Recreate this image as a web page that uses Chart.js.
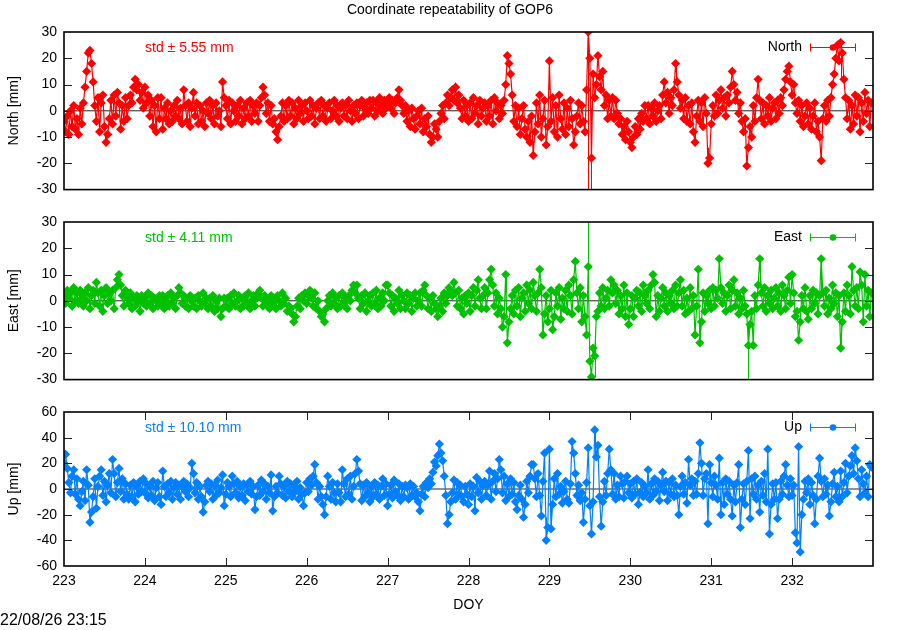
<!DOCTYPE html>
<html><head><meta charset="utf-8">
<script src="https://cdn.jsdelivr.net/npm/chart.js@4.4.1/dist/chart.umd.min.js"></script>
<style>
html,body{margin:0;padding:0;background:#fff;}
#wrap{position:relative;width:900px;height:630px;overflow:hidden;background:#fff;}
canvas{position:absolute;left:0;}
</style></head><body>
<div id="wrap">
<canvas id="c1" width="900" height="205" style="top:0px;width:900px;height:205px"></canvas>
<canvas id="c2" width="900" height="190" style="top:205px;width:900px;height:190px"></canvas>
<canvas id="c3" width="900" height="235" style="top:395px;width:900px;height:235px"></canvas>
</div>
<script>
// ---- sampling grid (day of year) ----
const doyStart = 223.0;
const doyStep = 0.02;

// ---- tick labels ----
const xTicks = [223, 224, 225, 226, 227, 228, 229, 230, 231, 232];
const neTicks = [-30, -20, -10, 0, 10, 20, 30];
const upTicks = [-60, -40, -20, 0, 20, 40, 60];

// ---- series values [mm], one row = 0.2 day ----
const north = [
  -4,-8,-2,-9,0,-6,2,-7,-3,-9,
  1,-5,3,9,15,22,23,18,11,2,
  -4,5,-8,3,6,-6,-12,-9,-3,4,
  -5,6,-2,7,3,-7,2,-4,5,-3,
  2,6,3,9,12,8,10,4,7,1,
  9,3,6,-2,4,-6,2,-8,5,-3,
  5,-7,1,-3,3,-5,0,-4,2,-2,
  4,-3,1,-5,8,2,-4,3,-6,1,
  7,-2,3,-5,2,-4,0,-6,3,-1,
  4,-3,2,-5,3,-2,0,-6,11,5,
  2,-3,4,-5,3,0,-4,2,-2,4,
  -5,1,-3,3,-2,4,-4,2,-1,3,
  -4,2,5,9,6,-1,3,-4,2,-5,
  -3,-8,-11,-6,-2,3,-4,2,-3,4,
  -2,3,-5,1,-3,4,-1,2,-4,3,
  0,-3,4,-2,2,-5,1,3,-3,4,
  -2,2,-4,1,3,-3,0,4,-2,2,
  -4,1,3,-2,2,-3,4,0,-4,2,
  -1,3,-3,2,4,-2,1,3,-1,4,
  1,4,-2,3,0,5,2,-1,4,1,
  3,5,1,4,-1,3,5,8,4,2,
  -1,2,-4,0,-6,1,-3,-7,-2,0,
  -5,1,-8,-3,-6,-2,-9,-12,-10,-5,
  -7,-10,-4,-1,2,-3,3,6,2,5,
  8,4,9,3,6,1,-3,4,-2,2,
  -4,3,-3,5,-1,2,-5,4,-2,1,
  3,-4,2,-2,4,-5,5,0,3,-3,
  2,-1,4,10,21,18,14,6,-4,2,
  -6,1,-9,-3,2,-7,-10,-4,-12,-2,
  -17,-8,3,-5,6,-10,-3,4,-13,-6,
  19,-4,5,-8,2,-10,6,-3,-7,3,
  -9,1,-6,4,-3,-13,-8,-2,3,-5,
  2,-4,-8,8,30,20,-18,14,5,10,
  21,13,8,15,2,6,-3,4,-2,5,
  -3,4,-1,-5,-3,-9,-6,-11,-4,-8,
  -12,-14,-10,-6,-9,-3,-7,-1,-4,2,
  -3,2,-5,1,-2,3,-4,0,2,-3,
  6,11,3,7,-1,5,2,8,18,11,
  6,1,4,-3,5,-4,2,-5,3,-8,
  -12,-2,4,-4,3,-6,5,-1,-20,-18,
  -5,2,-2,6,-1,4,8,1,5,-2,
  6,3,9,15,10,4,7,-1,3,-4,
  -8,-3,-21,-14,-6,-10,2,-4,5,12,
  4,-3,3,-5,2,-2,5,-4,1,3,
  -3,4,-1,5,2,8,12,15,17,11,
  6,10,3,-1,4,-4,2,-6,-2,3,
  -5,1,-7,-2,3,-8,-4,-10,-19,-3,
  2,-4,4,-2,5,10,14,20,25,19,
  26,22,12,5,-3,4,-7,2,-5,6,
  -2,5,-8,3,-4,7,-1,4,-6,3
];
const east = [
  2,-1,4,1,3,-2,5,0,3,-1,
  4,1,-2,3,0,5,-3,2,4,-1,
  7,3,-2,4,-4,2,5,-1,3,0,
  4,-3,5,8,10,6,2,-2,4,1,
  -1,3,-3,1,-2,2,0,-4,2,-1,
  1,-2,3,-1,2,-3,1,0,-2,2,
  -1,2,-3,0,2,-2,3,-1,1,-3,
  2,5,3,-1,2,-2,1,-3,2,0,
  -2,1,-3,2,0,-2,3,-1,1,-3,
  1,-2,2,-4,0,-3,1,-6,-3,1,
  -2,1,-3,2,-1,3,-2,0,2,-3,
  1,-2,2,-1,3,-3,0,2,-2,1,
  3,4,1,-2,2,-1,0,-3,2,-1,
  1,-3,2,0,-2,3,-1,1,-4,-2,
  -3,-5,-8,-6,-2,1,-3,2,0,3,
  -1,2,4,1,-2,3,-3,0,-4,-6,
  -5,-8,-3,0,2,-2,3,-1,1,-3,
  2,-2,3,-1,1,-3,2,0,4,6,
  3,6,1,-3,2,-1,3,-4,0,2,
  -2,3,-1,4,-3,1,-2,3,0,6,
  6,3,-2,2,-4,1,-1,4,-3,2,
  0,-3,3,-1,2,-4,1,3,-2,0,
  3,-2,4,6,2,-3,1,-4,2,-1,
  -3,-6,-2,1,-4,3,-1,2,5,4,
  2,7,3,-2,4,-3,1,-5,2,-1,
  3,-4,2,5,-2,4,8,1,-3,2,
  5,-3,3,8,12,6,-2,3,-5,1,
  -3,-10,-6,10,-16,-8,-3,2,-5,4,
  -2,5,-6,1,3,-4,6,-1,4,-3,
  7,2,-4,3,12,5,-13,-5,2,-8,
  -3,4,-11,-6,3,-2,5,-7,1,-3,
  4,-4,6,2,-5,8,15,3,-3,5,
  -8,2,-6,-13,13,-23,-29,-18,-21,-6,
  -4,3,-2,5,-3,1,4,-2,8,3,
  6,-1,4,-5,2,-3,6,-6,3,-9,
  -3,2,-6,1,4,-2,3,-4,6,2,
  -1,4,-3,6,10,7,-6,2,-4,1,
  5,-2,3,-4,2,-1,4,-3,6,-2,
  3,8,-2,4,-5,1,-4,5,-3,2,
  -13,-2,12,-16,-8,3,-4,2,-1,4,
  -3,5,-2,4,1,16,5,-1,3,-4,
  2,6,-3,4,8,-2,3,-5,1,-3,
  4,-2,-5,-17,-9,-4,-17,2,-3,6,
  16,3,-2,5,-4,2,-1,4,-3,1,
  5,-2,3,-4,6,2,-3,4,9,-1,
  10,3,-6,-4,-15,-8,2,-3,5,-4,
  -7,2,-3,4,-1,3,-5,2,16,3,
  -2,4,-5,1,-3,6,-1,3,-6,2,
  -18,-8,3,-4,6,2,-5,13,4,-2,
  5,-3,11,6,-8,10,-2,4,-6,3
];
const up = [
  20,27,16,5,-3,10,15,-4,8,-8,
  -13,-2,6,-9,15,3,-26,-18,-6,8,
  -15,2,10,15,-5,6,-10,3,12,-3,
  23,12,-6,5,16,-2,8,-8,4,-4,
  -8,3,-6,5,-10,2,-4,6,-2,8,
  -3,4,-7,2,-5,6,-9,1,5,-6,
  -12,14,2,-6,4,-3,6,-8,1,5,
  -4,3,-8,2,6,-2,4,-6,1,20,
  12,-3,5,-8,2,-6,-18,-10,3,6,
  -2,4,-8,3,-5,7,-3,1,11,-13,
  -4,5,2,-6,10,4,-3,6,-7,2,
  -5,4,-9,3,-2,6,-4,2,-16,-6,
  3,-5,7,-2,4,-8,2,-3,11,-17,
  -6,2,-3,10,4,-5,2,-7,6,-2,
  4,-6,3,-2,6,-8,1,-4,-13,-3,
  5,-2,8,3,10,19,5,-8,2,-6,
  -12,-20,-6,10,2,-8,5,-3,-10,4,
  -3,-10,15,4,-6,8,-4,10,-8,2,
  12,23,14,4,-9,3,-6,5,-3,-10,
  2,-6,5,-4,3,-8,2,8,-5,4,
  -13,-4,3,-7,7,-2,-5,4,-9,2,
  -6,3,1,-8,4,-5,2,-6,-3,-10,
  -17,-4,2,-6,5,1,8,4,13,21,
  18,26,35,28,22,10,-5,-27,-20,-10,
  -3,7,-8,5,-4,3,-6,-10,2,-4,
  -12,4,-6,2,-17,9,-3,6,-8,3,
  6,-5,3,14,-8,6,12,-2,8,23,
  15,-3,10,-9,4,-6,8,-4,5,-10,
  -16,-5,3,-8,-22,-12,6,-3,10,19,
  19,8,-6,12,-5,-21,6,28,-40,-30,
  31,-31,-12,8,-6,12,-4,2,-11,-2,
  6,-8,-11,4,37,28,12,-5,3,-9,
  -3,-26,-8,5,32,-13,-35,-10,46,25,
  34,-6,-29,-10,6,-5,12,31,15,-4,
  12,-8,3,-6,10,4,-7,6,10,-3,
  4,-7,6,-4,8,-12,-3,5,-6,2,
  -3,15,-8,4,-5,8,-2,6,-9,3,
  13,-2,6,-9,5,-4,8,-6,3,-5,
  -20,2,10,-4,5,-11,23,3,8,-5,
  6,-4,12,36,20,-5,8,12,-27,19,
  5,-6,10,3,-8,24,-20,5,-12,8,
  -4,6,-8,-21,3,-10,5,19,-30,-8,
  4,-12,6,30,-23,8,-4,10,-8,3,
  -18,6,-5,12,-10,31,-35,-12,4,-8,
  5,-23,-8,6,-4,10,19,3,-6,8,
  -5,3,-34,-42,33,-49,-20,-8,6,-3,
  8,-12,5,-5,-27,-8,10,24,6,-6,
  8,-4,3,-21,-10,4,13,-6,2,-10,
  14,-6,5,20,-3,10,18,26,12,32,
  22,8,-6,15,4,-3,10,-6,19,17
];

// ---- visible long error bars: [doy, low, high] ----
const northErr = [[229.00, 8, 19], [229.48, -30, 30], [229.52, -30, 1], [230.56, 11, 18], [230.96, -20, -14], [232.60, 12, 26]];
const eastErr = [[228.46, 3, 10], [229.48, 0, 30], [229.56, -29, -12], [230.86, -16, -8], [231.46, -30, -9], [231.60, 5, 16], [232.36, 2, 16], [232.60, -18, -9]];
const upErr = [[228.96, -40, -22], [229.02, -31, -10], [229.56, 25, 46], [230.98, 5, 19]];

// ---- reference line ----
const refDoy = [223, 233];
const refVal = [0, 0];

// ---- std labels ----
const stdNorth = 'std \u00b1 5.55 mm';
const stdEast = 'std \u00b1 4.11 mm';
const stdUp = 'std \u00b1 10.10 mm';

const FONT_FAMILY = '"Liberation Sans", Arial, Helvetica, sans-serif';
const FONT = '14px ' + FONT_FAMILY;

function toPoints(vals) { return vals.map((v, i) => ({x: doyStart + i * doyStep, y: v})); }

const panelPlugin = {
  id: 'panel',
  beforeDatasetsDraw(chart, args, opts) {
    const {ctx, chartArea: a, scales} = chart;
    ctx.save();
    ctx.beginPath(); ctx.rect(a.left, a.top, a.right - a.left, a.bottom - a.top); ctx.clip();
    ctx.strokeStyle = opts.color; ctx.lineWidth = 1;
    opts.errBars.forEach(([x, lo, hi]) => {
      const px = Math.round(scales.x.getPixelForValue(x)) + 0.5;
      ctx.beginPath();
      ctx.moveTo(px, scales.y.getPixelForValue(lo));
      ctx.lineTo(px, scales.y.getPixelForValue(hi));
      ctx.stroke();
    });
    ctx.restore();
  },
  afterDatasetsDraw(chart, args, opts) {
    const {ctx, chartArea: a, scales} = chart;
    ctx.save();
    ctx.strokeStyle = '#222'; ctx.lineWidth = 1;
    ctx.beginPath();
    scales.y.ticks.forEach(t => {
      const py = Math.round(scales.y.getPixelForValue(t.value)) + 0.5;
      if (py <= a.top + 2 || py >= a.bottom - 2) return;
      ctx.moveTo(a.left, py); ctx.lineTo(a.left + 8, py);
      ctx.moveTo(a.right - 8, py); ctx.lineTo(a.right, py);
    });
    if (opts.xTickMarks) {
      scales.x.ticks.forEach(t => {
        const px = Math.round(scales.x.getPixelForValue(t.value)) + 0.5;
        if (px <= a.left + 2 || px >= a.right - 2) return;
        ctx.moveTo(px, a.top); ctx.lineTo(px, a.top + 8);
        ctx.moveTo(px, a.bottom - 8); ctx.lineTo(px, a.bottom);
      });
    }
    ctx.stroke();
    ctx.strokeStyle = '#000'; ctx.lineWidth = 1.6;
    ctx.strokeRect(a.left, a.top, a.right - a.left, a.bottom - a.top);
    ctx.font = FONT; ctx.textBaseline = 'middle';
    ctx.fillStyle = opts.color; ctx.textAlign = 'left';
    ctx.fillText(opts.std, 145, a.top + 16);
    const ly = Math.round(a.top + 15) + 0.5;
    ctx.fillStyle = '#000'; ctx.textAlign = 'right';
    ctx.fillText(opts.name, 802, ly);
    ctx.strokeStyle = opts.color; ctx.lineWidth = 1;
    ctx.beginPath();
    ctx.moveTo(810, ly); ctx.lineTo(856, ly);
    ctx.moveTo(810.5, ly - 4); ctx.lineTo(810.5, ly + 4);
    ctx.moveTo(855.5, ly - 4); ctx.lineTo(855.5, ly + 4);
    ctx.stroke();
    ctx.fillStyle = opts.color;
    ctx.beginPath(); ctx.arc(833, ly, 3.3, 0, Math.PI * 2); ctx.fill();
    if (opts.title) {
      ctx.fillStyle = '#000'; ctx.textAlign = 'center'; ctx.textBaseline = 'middle';
      ctx.fillText(opts.title, 450, 10);
    }
    if (opts.stamp) {
      ctx.font = '16px ' + FONT_FAMILY;
      ctx.fillStyle = '#000'; ctx.textAlign = 'left'; ctx.textBaseline = 'middle';
      ctx.fillText(opts.stamp, 0, chart.height - 9);
    }
    ctx.restore();
  }
};

function makePanel(id, cfg) {
  const showX = !!cfg.showX;
  new Chart(document.getElementById(id), {
    type: 'line',
    data: {
      datasets: [
        {
          label: cfg.name,
          data: toPoints(cfg.values),
          borderColor: cfg.color,
          backgroundColor: cfg.color,
          borderWidth: 1.2,
          pointRadius: 4.6,
          pointBorderWidth: 0,
          pointStyle: 'rectRot',
          tension: 0,
          order: 1
        },
        {
          label: 'ref',
          data: refDoy.map((d, i) => ({x: d, y: refVal[i]})),
          borderColor: '#222',
          borderWidth: 1,
          pointRadius: 0,
          order: 2
        }
      ]
    },
    options: {
      responsive: false,
      animation: false,
      devicePixelRatio: 1,
      events: [],
      layout: {padding: cfg.padding},
      plugins: {
        legend: {display: false},
        tooltip: {enabled: false},
        panel: {color: cfg.color, std: cfg.std, name: cfg.name, errBars: cfg.errBars,
                xTickMarks: showX, title: cfg.title, stamp: cfg.stamp}
      },
      scales: {
        x: {
          type: 'linear',
          min: 223, max: 233,
          display: showX,
          afterBuildTicks: s => { s.ticks = xTicks.map(v => ({value: v})); },
          afterFit: s => { if (showX) s.height = 64; },
          grid: {display: false, drawTicks: false},
          border: {display: false},
          ticks: {color: '#000', font: {family: FONT_FAMILY, size: 14}, padding: 7, maxRotation: 0,
                  callback: v => String(v)},
          title: {display: showX, text: 'DOY', color: '#000', font: {family: FONT_FAMILY, size: 14},
                  padding: {top: 0, bottom: 16}}
        },
        y: {
          type: 'linear',
          min: cfg.yTicks[0], max: cfg.yTicks[cfg.yTicks.length - 1],
          afterBuildTicks: s => { s.ticks = cfg.yTicks.map(v => ({value: v})); },
          afterFit: s => { s.width = 64; },
          grid: {display: false, drawTicks: false},
          border: {display: false},
          ticks: {color: '#000', font: {family: FONT_FAMILY, size: 14}, padding: 7,
                  callback: v => String(v)},
          title: {display: true, text: cfg.name + ' [mm]', color: '#000',
                  font: {family: FONT_FAMILY, size: 14}, padding: {top: 6, bottom: 0}}
        }
      }
    },
    plugins: [panelPlugin]
  });
}

makePanel('c1', {name: 'North', color: '#ff0000', values: north, yTicks: neTicks, std: stdNorth,
  errBars: northErr, padding: {left: 0, right: 27, top: 32, bottom: 13},
  title: 'Coordinate repeatability of GOP6'});
makePanel('c2', {name: 'East', color: '#00c000', values: east, yTicks: neTicks, std: stdEast,
  errBars: eastErr, padding: {left: 0, right: 27, top: 17, bottom: 13}});
makePanel('c3', {name: 'Up', color: '#0080ff', values: up, yTicks: upTicks, std: stdUp,
  errBars: upErr, padding: {left: 0, right: 27, top: 17, bottom: 0}, showX: true,
  stamp: '22/08/26 23:15'});
</script>
</body></html>
